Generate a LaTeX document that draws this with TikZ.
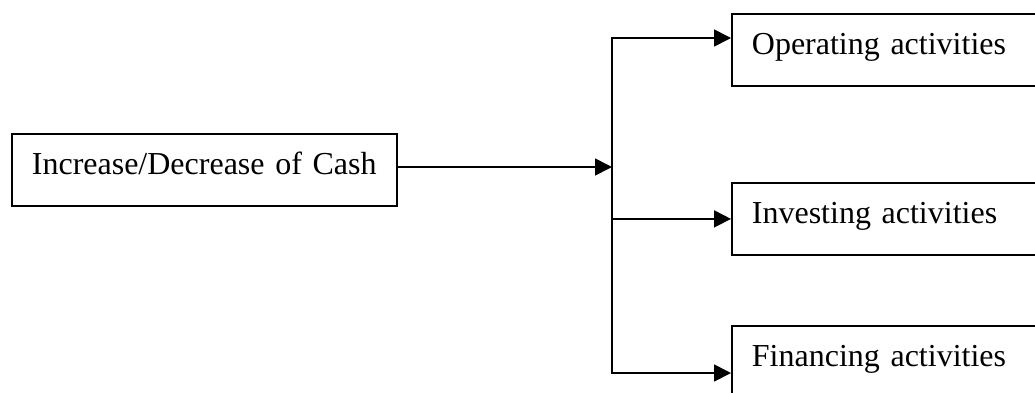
\documentclass[tikz,border=0pt]{standalone}
\usepackage{fontspec}
\setmainfont{Liberation Serif}
\usetikzlibrary{arrows.meta}
\begin{document}
\begin{tikzpicture}[x=1pt,y=-1pt,
  box/.style={draw, line width=1.8pt, anchor=north west, inner ysep=0pt,
    inner xsep=20pt, align=left, text height=41pt, text depth=31pt,
    font=\fontsize{32}{38}\selectfont},
  link/.style={line width=1.7pt},
  head/.tip={Triangle[length=17pt,width=17pt]},
  tip/.style={-head}]
\useasboundingbox (0,0) rectangle (1035,392);
% source box on the left
\node[box, text width=345pt] (src) at (11,133) {Increase/Decrease of Cash};
% the three activity boxes, running off the right edge
\node[box, text width=280pt] (op)  at (731,13)  {Operating activities};
\node[box, text width=280pt] (inv) at (731,182) {Investing activities};
\node[box, text width=280pt] (fin) at (731,325) {Financing activities};
% trunk of the distribution line
\coordinate (jn)  at (612,167);
\coordinate (top) at (612,38);
\coordinate (bot) at (612,373);
\draw[link,tip] (src.east |- jn) -- (jn);
\draw[link,head-head]
  (op.west |- top) -- (top) -- (bot) -- (fin.west |- bot);
\draw[link,tip] (inv.west -| top) -- (inv.west);
\end{tikzpicture}
\end{document}
